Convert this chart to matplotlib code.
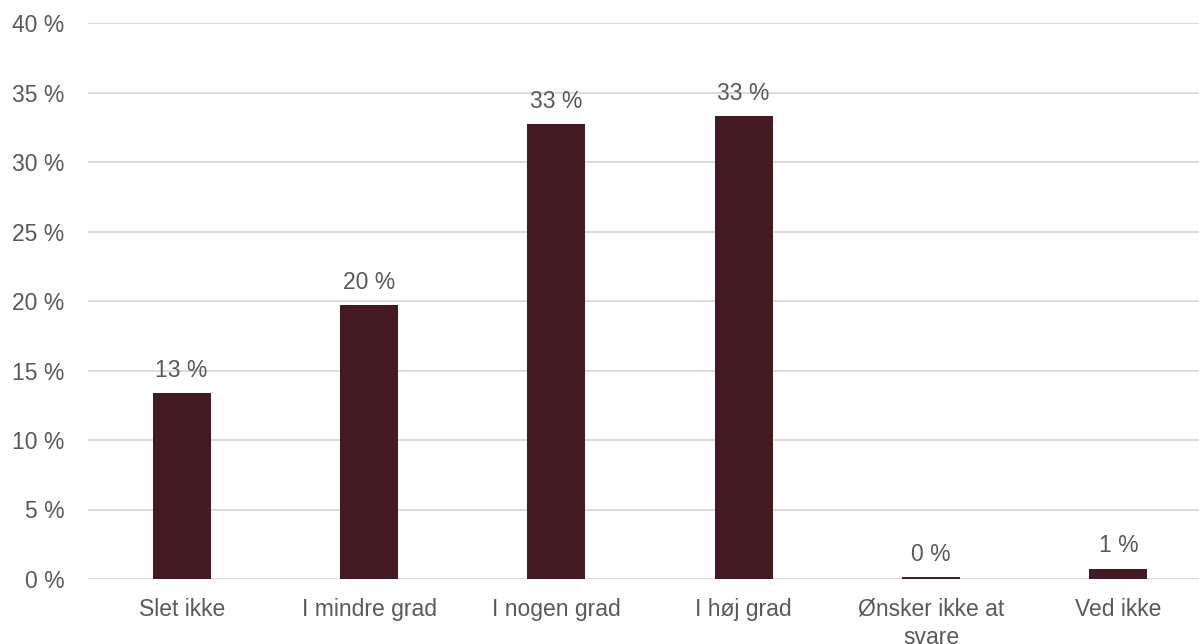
import matplotlib
matplotlib.use("Agg")
import matplotlib.pyplot as plt

categories = ["Slet ikke", "I mindre grad", "I nogen grad", "I høj grad", "Ønsker ikke at\nsvare", "Ved ikke"]
values = [13.4, 19.7, 32.7, 33.3, 0.15, 0.75]
labels = ["13 %", "20 %", "33 %", "33 %", "0 %", "1 %"]
yticks = [0, 5, 10, 15, 20, 25, 30, 35, 40]

plt.rcParams['font.family'] = ['Liberation Sans', 'DejaVu Sans']
text_color = "#595959"
bar_color = "#431A22"
fs = 16.5

fig = plt.figure(figsize=(11.99, 6.44), dpi=100)
ax = fig.add_axes([88/1199, 65/644, (1212-88)/1199, (579-23)/644])
x = list(range(len(categories)))
ax.bar(x, values, width=0.31, color=bar_color, zorder=3)
for xi, v, lab in zip(x, values, labels):
    ax.annotate(lab, (xi, v), xytext=(0, 8), textcoords="offset points",
                ha="center", va="bottom", fontsize=fs, color=text_color)

ax.set_xlim(-0.5, len(categories) - 0.5)
ax.set_ylim(0, 40)
ax.set_yticks(yticks)
ax.set_yticklabels([f"{t} %" for t in yticks])
ax.set_xticks(x)
ax.set_xticklabels(categories)
ax.tick_params(axis="both", length=0, labelsize=fs, labelcolor=text_color)
ax.tick_params(axis="y", pad=17)
ax.tick_params(axis="x", pad=13.5)
for lab in ax.get_xticklabels():
    lab.set_linespacing(1.3)
ax.grid(axis="y", color="#D9D9D9", linewidth=1.3, zorder=0)
for s in ax.spines.values():
    s.set_visible(False)

fig.savefig("out.png", dpi=100)
